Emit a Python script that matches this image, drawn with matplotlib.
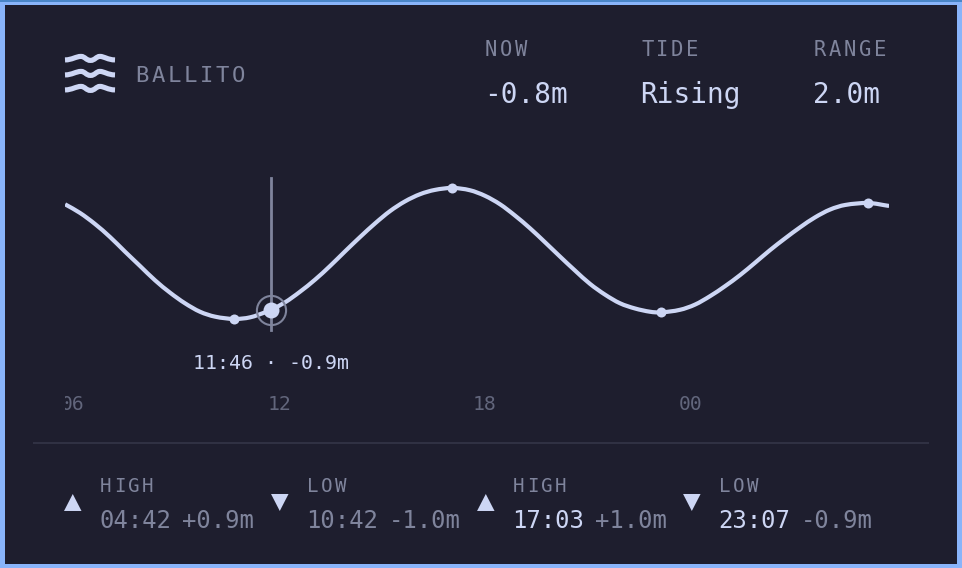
"""Ballito tide card."""
import matplotlib

matplotlib.use("Agg")
import matplotlib.pyplot as plt  # noqa: E402
from matplotlib.patches import PathPatch, Polygon, Rectangle  # noqa: E402
from matplotlib.path import Path  # noqa: E402
from matplotlib.text import Text  # noqa: E402

W, H = 962, 568
BG = "#1e1e2e"
BORDER = "#89b4fa"
FG = "#cdd6f4"
MUTED = "#7f849c"
DIM = "#62667c"
RULE = "#313244"
MONO = "DejaVu Sans Mono"

# hours since midnight of the first day, metres
hours = [5.77, 6.20, 6.64, 7.08, 7.51, 7.95, 8.39, 8.83, 9.26, 9.70, 10.14, 10.70,
         11.16, 11.64, 11.77, 12.18, 12.61, 13.05, 13.49, 13.92, 14.36, 14.80, 15.23,
         15.67, 16.11, 16.54, 17.05, 17.56, 18.00, 18.44, 18.87, 19.31, 19.75, 20.19,
         20.62, 21.06, 21.50, 21.93, 22.37, 22.81, 23.12, 23.68, 24.12, 24.56, 24.99,
         25.43, 25.87, 26.30, 26.74, 27.18, 27.61, 28.05, 28.49, 29.17, 29.77]
heights = [0.75, 0.62, 0.45, 0.25, 0.03, -0.19, -0.41, -0.60, -0.76, -0.89, -0.965, -1.00,
           -0.975, -0.89, -0.86, -0.745, -0.585, -0.40, -0.19, 0.03, 0.25, 0.46, 0.645,
           0.795, 0.905, 0.97, 1.00, 0.965, 0.88, 0.75, 0.58, 0.385, 0.17, -0.05,
           -0.26, -0.465, -0.63, -0.76, -0.84, -0.89, -0.90, -0.86, -0.78, -0.65, -0.50,
           -0.33, -0.14, 0.05, 0.23, 0.40, 0.55, 0.67, 0.74, 0.77, 0.725]

extreme_hours = [10.70, 17.05, 23.12, 29.17]
extreme_heights = [-1.00, 1.00, -0.90, 0.77]
now_hour = 11.77
now_height = -0.86
now_label = "11:46 · -0.9m"

tick_hours = [6, 12, 18, 24]
tick_labels = ["06", "12", "18", "00"]

station = "BALLITO"
stat_names = ["NOW", "TIDE", "RANGE"]
stat_values = ["-0.8m", "Rising", "2.0m"]

event_kinds = ["HIGH", "LOW", "HIGH", "LOW"]
event_times = ["04:42", "10:42", "17:03", "23:07"]
event_levels = ["+0.9m", "-1.0m", "+1.0m", "-0.9m"]
event_past = [True, True, False, False]


class SpacedText(Text):
    """One string drawn with a fixed letter pitch, in data units."""

    def __init__(self, x, y, text, pitch, **kw):
        super().__init__(x, y, text, **kw)
        self.pitch = pitch

    def draw(self, renderer):
        full = self.get_text()
        x0 = self.get_position()[0]
        for i, ch in enumerate(full):
            self.set_text(ch)
            self.set_x(x0 + i * self.pitch)
            super().draw(renderer)
        self.set_text(full)
        self.set_x(x0)


def spaced(ax, x, y, text, pitch, size, color):
    ax.add_artist(SpacedText(x, y, text, pitch, fontsize=size, color=color,
                             family=MONO, va="baseline", ha="left"))


def smooth_path(xs, ys):
    # monotone x, bezier handles from the neighbouring readings
    n = len(xs)
    slopes = []
    for i in range(n):
        a, b = max(i - 1, 0), min(i + 1, n - 1)
        slopes.append((ys[b] - ys[a]) / (xs[b] - xs[a]))
    verts = [(xs[0], ys[0])]
    for i in range(n - 1):
        d = (xs[i + 1] - xs[i]) / 3
        verts.append((xs[i] + d, ys[i] + slopes[i] * d))
        verts.append((xs[i + 1] - d, ys[i + 1] - slopes[i + 1] * d))
        verts.append((xs[i + 1], ys[i + 1]))
    return Path(verts, [Path.MOVETO] + [Path.CURVE4] * (3 * (n - 1)))


fig = plt.figure(figsize=((W + 0.1) / 100, (H + 0.1) / 100), dpi=100, facecolor=BORDER)

# card furniture, in pixel coordinates
card = fig.add_axes([0, 0, 1, 1], zorder=0)
card.set_xlim(0, W)
card.set_ylim(H, 0)
card.axis("off")
card.add_patch(Rectangle((0, 0), W, 2, fc="#4a86c8", ec="none"))
card.add_patch(Rectangle((5, 5), 952, 559, fc=BG, ec="none"))
card.plot([33, 929], [443.5, 443.5], color=RULE, lw=1.4, solid_capstyle="butt")

# wave icon
for y in (60, 75, 90):
    verts = [(65, y), (72, y), (76, y - 3.5), (81, y - 3.5), (85, y - 3.5), (86, y + 0.5),
             (90.5, y + 0.5), (95, y + 0.5), (96, y - 3.5), (100, y - 3.5), (104, y - 3.5),
             (108, y), (115, y)]
    codes = [Path.MOVETO] + [Path.CURVE4] * 12
    card.add_patch(PathPatch(Path(verts, codes), fc="none", ec=FG, lw=3.7, capstyle="butt"))

spaced(card, 135.5, 81.5, station, 16, 16, MUTED)

for x, name, value in zip([485, 641, 814], stat_names, stat_values):
    spaced(card, x, 56, name, 15, 14.8, MUTED)
    card.text(x - 1, 102.5, value, fontsize=20, color=FG, family=MONO, va="baseline", ha="left")

# high / low strip
for i, x in enumerate([100, 307, 513, 719]):
    spaced(card, x, 491.5, event_kinds[i], 14, 13.8, MUTED)
    card.text(x - 1, 528, event_times[i], fontsize=17.2, va="baseline", ha="left", family=MONO,
              color=MUTED if event_past[i] else FG)
    card.text(x + 81.5, 528, event_levels[i], fontsize=17.2, va="baseline", ha="left",
              family=MONO, color=MUTED)
    tx = x - 36
    if event_kinds[i] == "HIGH":
        tri = [(tx, 511), (tx + 17.5, 511), (tx + 8.75, 494)]
    else:
        tri = [(tx, 494), (tx + 17.5, 494), (tx + 8.75, 511)]
    card.add_patch(Polygon(tri, closed=True, fc=FG, ec="none"))

# tide curve
ax = fig.add_axes([65 / W, 1 - 420 / H, 824 / W, 250 / H], zorder=1)
ax.patch.set_alpha(0)
ax.axis("off")
ax.set_xlim(5.767, 29.77)
ax.set_ylim(-2.542, 1.275)

ax.add_patch(PathPatch(smooth_path(hours, heights), fc="none", ec=FG, lw=3.0,
                       capstyle="butt", joinstyle="round"))
ax.plot(extreme_hours, extreme_heights, "o", color=FG, ms=7.2, mew=0)
ax.axvline(now_hour, ymin=0.36, ymax=0.968, color=MUTED, lw=2.0)
ax.plot([now_hour], [now_height], "o", mfc="none", mec=MUTED, mew=1.5, ms=21)
ax.plot([now_hour], [now_height], "o", color=FG, ms=11.5, mew=0)
ax.annotate(now_label, (now_hour, now_height), xytext=(0, -42.5), textcoords="offset points",
            ha="center", va="baseline", fontsize=14.3, color=FG, family=MONO)

for h, label in zip(tick_hours, tick_labels):
    ax.text(h, 0.04, label, transform=ax.get_xaxis_transform(), ha="center", va="baseline",
            fontsize=14.2, color=DIM, family=MONO, clip_on=True)

fig.savefig("out.png", dpi=100, facecolor=fig.get_facecolor())
plt.close(fig)
